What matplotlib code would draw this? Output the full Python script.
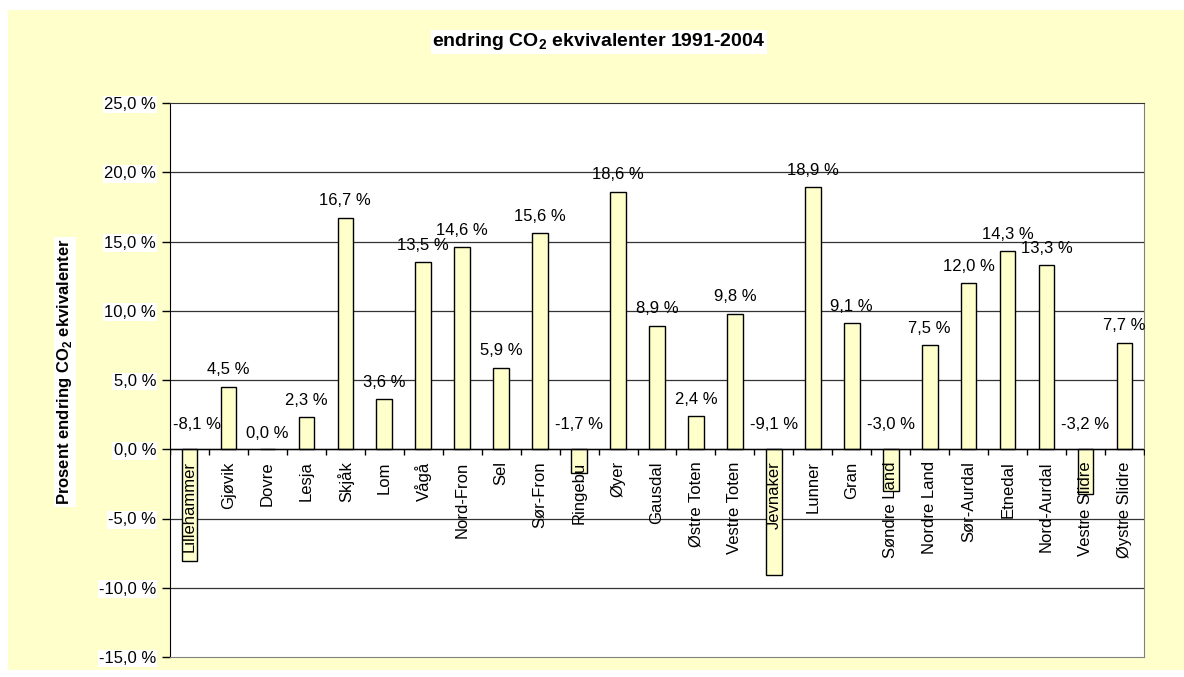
import matplotlib
matplotlib.use("Agg")
import matplotlib.pyplot as plt
from matplotlib.patches import Rectangle
import matplotlib.transforms as mtransforms

plt.rcParams['font.family'] = ['Liberation Sans', 'DejaVu Sans']
plt.rcParams['mathtext.fontset'] = 'custom'
plt.rcParams['mathtext.rm'] = 'Liberation Sans'
plt.rcParams['mathtext.bf'] = 'Liberation Sans:bold'

kommuner = ['Lillehammer', 'Gjøvik', 'Dovre', 'Lesja', 'Skjåk', 'Lom', 'Vågå',
            'Nord-Fron', 'Sel', 'Sør-Fron', 'Ringebu', 'Øyer', 'Gausdal',
            'Østre Toten', 'Vestre Toten', 'Jevnaker', 'Lunner', 'Gran',
            'Søndre Land', 'Nordre Land', 'Sør-Aurdal', 'Etnedal', 'Nord-Aurdal',
            'Vestre Slidre', 'Øystre Slidre']
endring = [-8.1, 4.5, 0.0, 2.3, 16.7, 3.6, 13.5, 14.6, 5.9, 15.6, -1.7, 18.6, 8.9,
           2.4, 9.8, -9.1, 18.9, 9.1, -3.0, 7.5, 12.0, 14.3, 13.3, -3.2, 7.7]
yticks = [-15, -10, -5, 0, 5, 10, 15, 20, 25]

W, H = 1184, 677
fig = plt.figure(figsize=(W / 100, H / 100), dpi=100)
fig.patch.set_facecolor('white')

# yellow chart area
fig.add_artist(Rectangle((8 / W, 1 - 670 / H), (W - 8) / W, 660 / H,
                         transform=fig.transFigure, facecolor='#FFFFCC',
                         edgecolor='none', zorder=-10))

ax = fig.add_axes([170 / W, 1 - 657 / H, (1144 - 170) / W, (657 - 103) / H])
ax.set_facecolor('white')

x = list(range(len(kommuner)))
ax.bar(x, endring, width=0.4, color='#FFFFCC', edgecolor='black', linewidth=1, zorder=2)

ax.set_xlim(-0.5, len(kommuner) - 0.5)
ax.set_ylim(-15, 25)
ax.set_yticks(yticks)
ax.set_yticklabels([f'{v:.1f} %'.replace('.', ',') for v in yticks], fontsize=12)
for lbl in ax.get_yticklabels():
    lbl.set_bbox(dict(facecolor='white', edgecolor='none', pad=1))
ax.tick_params(axis='y', direction='out', length=6, width=1, pad=4, colors='black')
ax.set_xticks([])

for v in yticks[1:-1]:
    ax.axhline(v, color='#333333', linewidth=0.9, zorder=1)
ax.axhline(0, color='black', linewidth=1, zorder=3)

ax.spines['left'].set_color('black')
ax.spines['top'].set_color('#333333')
ax.spines['right'].set_color('#808080')
ax.spines['bottom'].set_color('#808080')

# category ticks on the zero line
bounds = [i - 0.5 for i in range(len(kommuner) + 1)]
ax.plot(bounds, [0] * len(bounds), linestyle='none', marker=3, markersize=4,
        color='black', markeredgewidth=1, zorder=3)

below = mtransforms.offset_copy(ax.transData, fig=fig, x=0, y=-12, units='dots')
for i, name in enumerate(kommuner):
    ax.text(i, 0, name, rotation=90, ha='center', va='top', fontsize=12,
            transform=below, zorder=4)

# value labels, kept inside the plot area
renderer = fig.canvas.get_renderer()
ax_left = ax.get_window_extent(renderer).x0
for i, v in enumerate(endring):
    if v > 0:
        off = 17
    elif v == 0:
        off = 16
    else:
        off = 25
    tr = mtransforms.offset_copy(ax.transData, fig=fig, x=0, y=off, units='dots')
    t = ax.text(i, max(v, 0), f'{v:.1f} %'.replace('.', ','), ha='center', va='center',
                fontsize=12, transform=tr, zorder=4)
    x0 = t.get_window_extent(renderer).x0
    if x0 < ax_left + 3:
        shift = ax_left + 3 - x0
        t.set_transform(mtransforms.offset_copy(ax.transData, fig=fig, x=shift,
                                                y=off, units='dots'))

fig.text(599 / W, 1 - 42 / H, r'endring CO$_\mathbf{2}$ ekvivalenter 1991-2004',
         ha='center', va='center', fontsize=14, fontweight='bold',
         bbox=dict(facecolor='white', edgecolor='none', pad=1))
fig.text(65 / W, 1 - 372 / H, r'Prosent endring CO$_\mathbf{2}$ ekvivalenter',
         rotation=90, ha='center', va='center', fontsize=12, fontweight='bold',
         bbox=dict(facecolor='white', edgecolor='none', pad=1))

fig.savefig('out.png', dpi=100)
